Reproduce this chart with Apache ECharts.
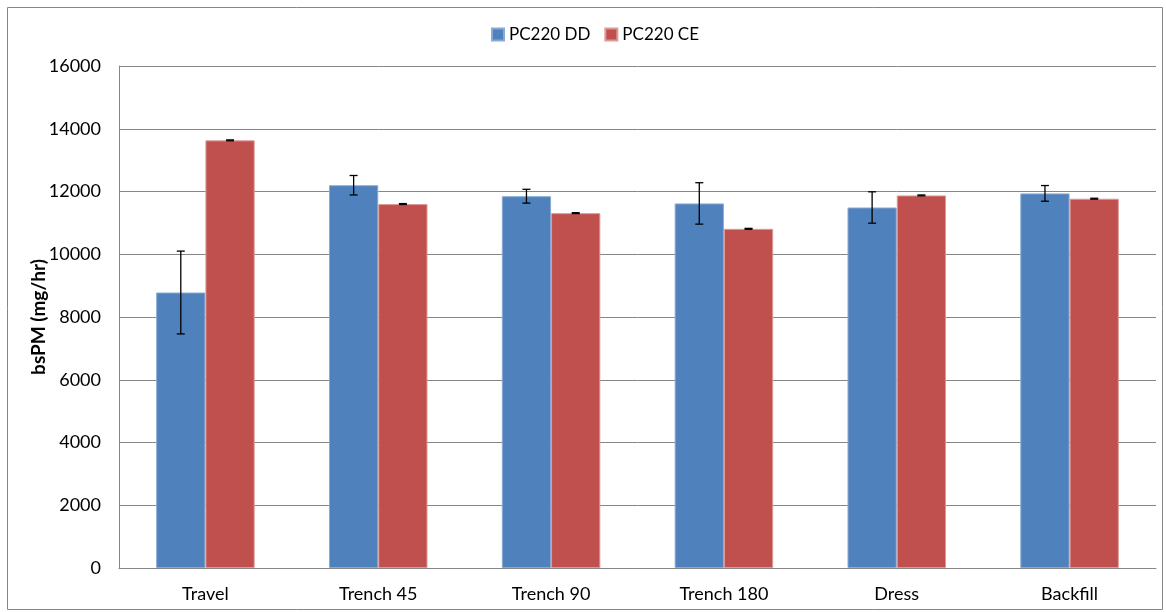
<!DOCTYPE html>
<html><head><meta charset="utf-8">
<script src="https://cdn.jsdelivr.net/npm/echarts@6/dist/echarts.min.js"></script>
<style>html,body{margin:0;padding:0;background:#fff}#c{width:1166px;height:612px}</style>
</head><body><div id="c"></div>
<script>
const categories = ["Travel", "Trench 45", "Trench 90", "Trench 180", "Dress", "Backfill"];
const seriesNames = ["PC220 DD", "PC220 CE"];
const ddValues = [8780, 12200, 11850, 11620, 11490, 11940];
const ddErrors = [1320, 310, 220, 660, 500, 250];
const ceValues = [13630, 11600, 11310, 10810, 11875, 11770];
const ceErrors = [15, 15, 15, 15, 15, 15];
const yTicks = [0, 2000, 4000, 6000, 8000, 10000, 12000, 14000, 16000];

const colors = ['#4F81BD', '#C0504D'];
const borders = ['#8aaad3', '#dc9a98'];
const font = 'Lato, "Open Sans", sans-serif';
const catGap = 0.43;

function errSeries(idx, vals, errs) {
  return {
    type: 'custom', name: seriesNames[idx] + ' err', z: 5,
    data: vals.map((v, i) => [i, v, errs[i]]),
    renderItem: function (params, api) {
      const i = api.value(0), v = api.value(1), e = api.value(2);
      const band = api.size([1, 0])[0];
      const bw = band * (1 - catGap) / 2;
      const c = api.coord([i, v]);
      const x = c[0] + (idx === 0 ? -bw / 2 : bw / 2);
      const yHi = api.coord([i, v + e])[1];
      const yLo = api.coord([i, v - e])[1];
      const cap = 4;
      const st = { stroke: '#000', lineWidth: 1.3 };
      return { type: 'group', children: [
        { type: 'line', shape: { x1: x, y1: yHi, x2: x, y2: yLo }, style: st },
        { type: 'line', shape: { x1: x - cap, y1: yHi, x2: x + cap, y2: yHi }, style: st },
        { type: 'line', shape: { x1: x - cap, y1: yLo, x2: x + cap, y2: yLo }, style: st }
      ]};
    },
    tooltip: { show: false }
  };
}

const chart = echarts.init(document.getElementById('c'));
chart.setOption({
  animation: false,
  graphic: [{ type: 'rect', shape: { x: 7.5, y: 7.5, width: 1155, height: 602 },
    style: { fill: 'none', stroke: '#868686', lineWidth: 1 }, z: -1 }],
  legend: {
    data: seriesNames, top: 21, left: 486, icon: 'rect', itemWidth: 12, itemHeight: 12, itemGap: 14,
    textStyle: { fontFamily: font, fontSize: 17, color: '#000' }
  },
  grid: { left: 119, right: 10, top: 66, bottom: 44, containLabel: false },
  xAxis: {
    type: 'category', data: categories,
    axisLine: { lineStyle: { color: '#868686', width: 1 } },
    axisTick: { show: false },
    axisLabel: { fontFamily: font, fontSize: 18, color: '#000', margin: 17 }
  },
  yAxis: {
    type: 'value', min: yTicks[0], max: yTicks[yTicks.length - 1], interval: 2000,
    name: 'bsPM (mg/hr)', nameLocation: 'middle', nameGap: 71, nameRotate: 90,
    nameMoveOverlap: false,
    nameTextStyle: { fontFamily: font, fontSize: 19, fontWeight: 'bold', color: '#000' },
    axisLine: { show: true, lineStyle: { color: '#868686', width: 1 } },
    axisTick: { show: false },
    axisLabel: { fontFamily: font, fontSize: 18, color: '#000', margin: 18,
      formatter: v => String(v) },
    splitLine: { lineStyle: { color: '#868686', width: 1 } }
  },
  series: [
    { type: 'bar', name: seriesNames[0], data: ddValues, barGap: '0%', barCategoryGap: (catGap * 100) + '%',
      itemStyle: { color: colors[0], borderColor: borders[0], borderWidth: 1 } },
    { type: 'bar', name: seriesNames[1], data: ceValues, barGap: '0%', barCategoryGap: (catGap * 100) + '%',
      itemStyle: { color: colors[1], borderColor: borders[1], borderWidth: 1 } },
    errSeries(0, ddValues, ddErrors),
    errSeries(1, ceValues, ceErrors)
  ]
});
</script></body></html>
